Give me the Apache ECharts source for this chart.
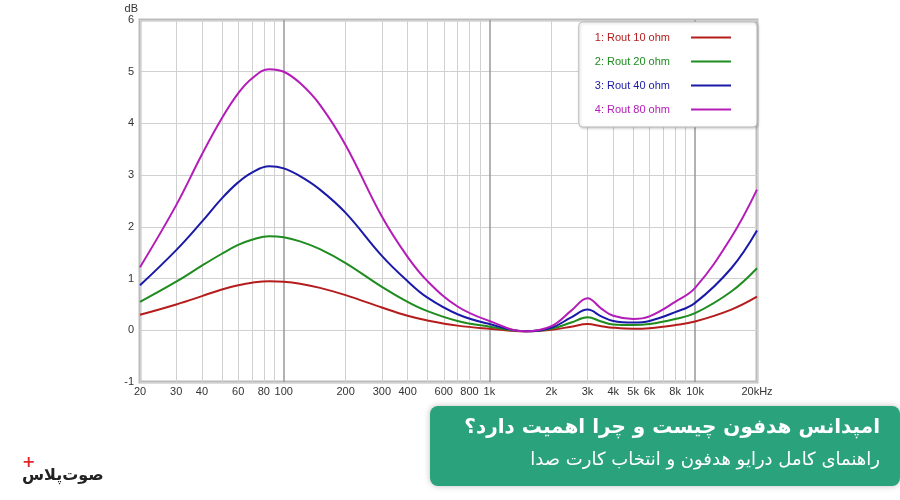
<!DOCTYPE html>
<html><head><meta charset="utf-8">
<script src="https://cdn.jsdelivr.net/npm/echarts@6/dist/echarts.min.js"></script>
<style>html,body{margin:0;background:#fff}#c{width:900px;height:500px}</style>
</head><body><div id="c"></div>
<script>
const freqs=[20,30,40,50,60,70,85,100,120,150,200,300,400,500,700,1000,1500,2000,2500,3000,3500,4000,5000,6000,8000,10000,15000,20000];
const r10=[0.30,0.50,0.66,0.79,0.87,0.92,0.95,0.94,0.90,0.82,0.68,0.44,0.28,0.19,0.09,0.03,-0.02,0.01,0.07,0.12,0.08,0.05,0.03,0.04,0.10,0.17,0.40,0.65];
const r20=[0.55,0.94,1.25,1.48,1.65,1.75,1.82,1.80,1.72,1.57,1.30,0.84,0.55,0.37,0.18,0.07,-0.02,0.03,0.15,0.25,0.17,0.11,0.10,0.12,0.22,0.33,0.75,1.20];
const r40=[0.87,1.55,2.10,2.55,2.86,3.05,3.17,3.13,2.98,2.72,2.27,1.44,0.95,0.63,0.31,0.12,-0.02,0.05,0.25,0.40,0.27,0.18,0.15,0.18,0.35,0.53,1.20,1.93];
const r80=[1.22,2.42,3.40,4.10,4.58,4.87,5.05,5.00,4.78,4.36,3.58,2.20,1.42,0.95,0.46,0.18,-0.02,0.08,0.38,0.62,0.42,0.28,0.22,0.27,0.55,0.82,1.80,2.72];
const names=['1: Rout 10 ohm','2: Rout 20 ohm','3: Rout 40 ohm','4: Rout 80 ohm'];
const colors=['#b51d1d','#1e8c1e','#1a1aa8','#b41cb8'];
const gridFreqs=[20,30,40,50,60,70,80,90,100,200,300,400,500,600,700,800,900,1000,2000,3000,4000,5000,6000,7000,8000,9000,10000,20000];
const labelFreqs={20:'20',30:'30',40:'40',60:'60',80:'80',100:'100',200:'200',300:'300',400:'400',600:'600',800:'800',1000:'1k',2000:'2k',3000:'3k',4000:'4k',5000:'5k',6000:'6k',8000:'8k',10000:'10k',20000:'20kHz'};
const data=[r10,r20,r40,r80];
const major=[100,1000,10000];
const series=data.map((d,i)=>({name:names[i],type:'line',smooth:0.4,symbol:'none',
  lineStyle:{color:colors[i],width:2},itemStyle:{color:colors[i]},z:5,
  data:freqs.map((f,k)=>[f,d[k]])}));
series[0].markLine={silent:true,symbol:'none',animation:false,z:1,
  data:gridFreqs.map(f=>({xAxis:f,lineStyle:{color:major.includes(f)?'#999':'#d0d0d0',width:major.includes(f)?1.5:1,type:'solid'},
    label:{show:!!labelFreqs[f],position:'start',formatter:labelFreqs[f]||'',color:'#333',fontSize:11,fontFamily:'Arial, Liberation Sans',distance:4}}))};
const chart=echarts.init(document.getElementById('c'));
chart.setOption({
  animation:false,
  grid:{left:140,right:143,top:20,bottom:118,show:true,borderColor:'#bbb',borderWidth:3},
  xAxis:{type:'log',logBase:10,min:20,max:20000,axisLabel:{show:false},axisTick:{show:false},axisLine:{show:false},splitLine:{show:false},minorSplitLine:{show:false}},
  yAxis:{type:'value',min:-1,max:6,interval:1,name:'dB',nameGap:2,nameTextStyle:{color:'#333',fontSize:11,align:'right',padding:[0,2,0,0]},
    axisLabel:{color:'#333',fontSize:11,margin:6,fontFamily:'Arial, Liberation Sans'},axisTick:{show:false},axisLine:{show:false},
    splitLine:{lineStyle:{color:'#d0d0d0'}}},
  legend:{z:20,zlevel:1,orient:'vertical',right:143,top:22,align:'right',itemWidth:40,itemHeight:2,itemGap:13,icon:'rect',
    padding:[10,26,12,16],backgroundColor:'#fff',borderColor:'#bbb',borderWidth:1,borderRadius:4,
    shadowColor:'rgba(0,0,0,0.2)',shadowBlur:3,shadowOffsetX:1,shadowOffsetY:1,
    textStyle:{fontSize:11,fontFamily:'Arial, Liberation Sans',padding:[0,16,0,0]},
    data:names.map((n,i)=>({name:n,textStyle:{color:colors[i]}}))},
  graphic:[
    {type:'rect',shape:{x:430,y:406,width:470,height:80,r:8},style:{fill:'#2aa37c',shadowColor:'rgba(0,0,0,0.25)',shadowBlur:6}},
    {type:'text',style:{x:880,y:428,text:'امپدانس هدفون چیست و چرا اهمیت دارد؟',textAlign:'right',textVerticalAlign:'middle',fill:'#fff',font:'bold 20px "DejaVu Sans"'}},
    {type:'text',style:{x:880,y:460,text:'راهنمای کامل درایو هدفون و انتخاب کارت صدا',textAlign:'right',textVerticalAlign:'middle',fill:'#fff',font:'18px "DejaVu Sans"'}},
    {type:'text',style:{x:22,y:468,text:'صوت‌پلاس',fill:'#222',font:'bold 16px "DejaVu Sans"'}},
    {type:'text',style:{x:22,y:455,text:'+',fill:'#e0262d',font:'bold 16px "DejaVu Sans"'}}
  ],
  series
});
</script></body></html>
